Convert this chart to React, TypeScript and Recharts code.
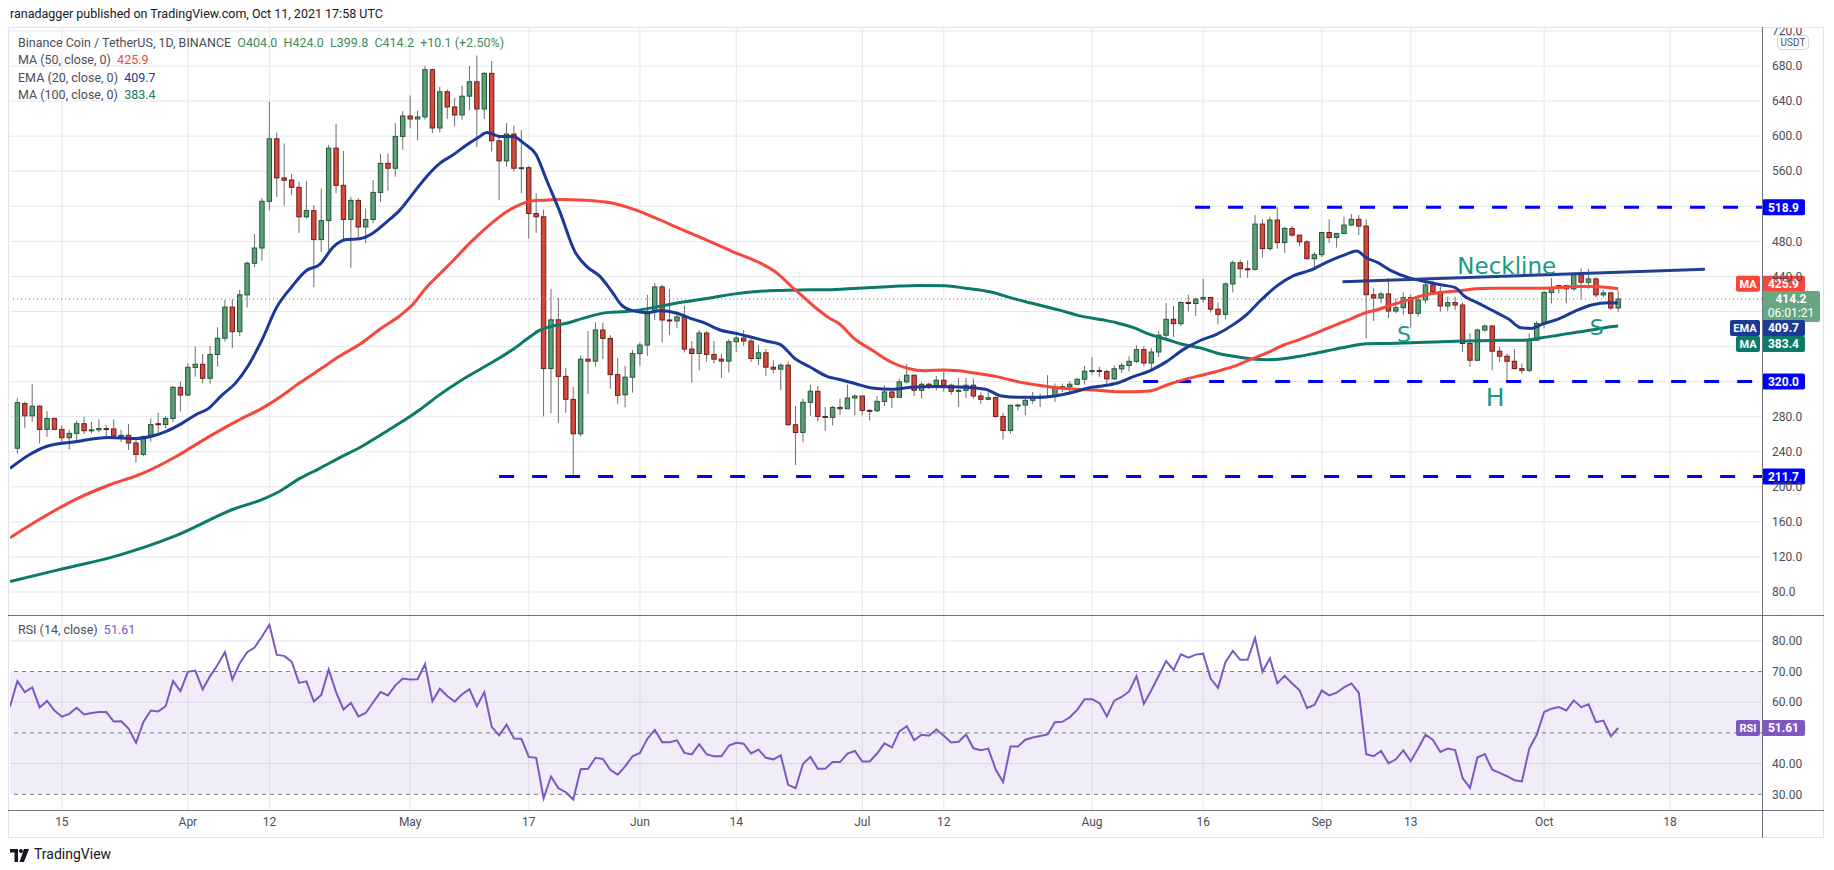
import React from "react"
import {
  ComposedChart,
  Bar,
  Line,
  XAxis,
  YAxis,
  CartesianGrid,
  ReferenceLine,
  ReferenceArea,
  ReferenceDot,
} from "recharts"

// x = day index, 0 = 8 Mar 2021
const X_DOMAIN: [number, number] = [0, 236.4]
const xTicks = [7, 24, 35, 54, 70, 85, 98, 115, 126, 146, 161, 177, 189, 207, 224]
const xTickLabels = ["15", "Apr", "12", "May", "17", "Jun", "14", "Jul", "12", "Aug", "16", "Sep", "13", "Oct", "18"]

// grid every 40; labels that sit under a price badge are left out, as on the chart
const priceGrid = [80, 120, 160, 200, 240, 280, 320, 360, 400, 440, 480, 520, 560, 600, 640, 680, 720]
const priceLabels = [80, 120, 160, 200, 240, 280, 440, 480, 560, 600, 640, 680, 720]
const rsiLabels = [30, 40, 60, 70, 80]
const rsiGridLines = [40, 60, 80]
const rsiDashed = [30, 50, 70]

// daily candles, first one is 9 Mar
const firstCandleDay = 1
const opens = [
  244, 295, 281, 292, 265.5, 278, 265.5, 256, 261, 272,
  264, 265, 266.5, 266, 258, 258.8, 250, 237, 257, 272,
  271, 278, 313.5, 304.7, 336.3, 339.8, 323.8, 351, 369.5, 405,
  377, 419, 455, 472.4, 525.7, 597, 552.4, 550, 541.6, 508,
  515, 482, 503.7, 586.3, 543.9, 505, 526.7, 496.4, 505, 535.8,
  569, 563.4, 599.7, 623, 619.6, 621.9, 675.8, 609.3, 650.6, 633.3,
  624.2, 645.6, 662, 631, 671.6, 594.7, 571.8, 602.4, 563.4, 564,
  511.7, 508, 335, 390.5, 326, 299.8, 260.5, 345.6, 343.4, 378.9,
  369.3, 328, 305, 325, 352, 361.7, 400, 428, 390.3, 389.2,
  393.8, 357.1, 352.1, 375.4, 351, 345.6, 343.4, 365.5, 369.7, 366.3,
  346.4, 352.9, 336.5, 334.2, 338.8, 270.8, 262, 296.4, 309, 280.3,
  279.2, 290.6, 289.1, 301.3, 303.6, 287.2, 286.8, 297.5, 308.2, 302.1,
  319.7, 327.3, 310.1, 317, 315, 321.6, 315.9, 309, 310, 315.9,
  303.6, 299.8, 301.7, 280.3, 264.3, 293, 293.3, 298.7, 301.3, 302.5,
  303.2, 313.9, 314.3, 317, 322.7, 331.9, 332.7, 331.6, 323.1, 334.6,
  338.5, 343.1, 356.5, 341.2, 353.8, 373, 391.1, 386.1, 410.3, 409.1,
  414.1, 416, 402.6, 396.8, 431.4, 455.6, 448.7, 448, 499.7, 471.7,
  504.3, 478.6, 494.7, 487.1, 479.4, 460.2, 464.8, 490.1, 484.4, 489,
  498.6, 505.1, 497.4, 419.1, 415.3, 420, 400.5, 404.4, 415.8, 397.9,
  413.2, 430.3, 422.7, 406.3, 410.1, 407.4, 363.5, 344.4, 378.8, 383.4,
  354.7, 349, 343.2, 334.8, 332.9, 367.3, 386.4, 421.6, 427.3, 429.6,
  425.8, 441.8, 433.4, 437.2, 418.9, 421.2, 404,
]
const highs = [
  301, 297, 317, 293, 286.5, 279, 270, 265, 275.4, 280,
  274, 277, 270.5, 277, 265, 271.6, 255, 258.6, 278, 284.5,
  280.7, 315, 320, 341, 360, 351.6, 360.7, 382, 413.3, 414,
  424.7, 457, 488.7, 529.5, 639, 604, 591.6, 557, 548, 548.8,
  521.3, 540.4, 590, 614, 583, 530.9, 529, 517.5, 550, 580,
  580, 615, 628.4, 646.3, 629, 680, 677, 656.3, 653.2, 643.7,
  657.8, 680, 692, 673, 685.7, 599.7, 615, 612, 607, 566,
  534.7, 516.3, 425.7, 416, 335.7, 314, 349.5, 377.7, 387.7, 387.3,
  373, 347.2, 338, 356, 364.7, 419, 432.4, 430.5, 425.9, 399.9,
  406.8, 366.3, 378.9, 377.7, 366.3, 352.1, 368.6, 377, 378.9, 368.6,
  361.7, 357, 344.5, 340.7, 342.6, 292.2, 300.6, 316.6, 315, 291,
  292.2, 300.6, 316.6, 305.2, 303.6, 288.3, 303.6, 315.9, 309, 323.5,
  340, 328.1, 319.7, 318.9, 326.5, 334.2, 317.8, 324.3, 324.3, 323.5,
  307.5, 308.2, 303.2, 284.5, 293.7, 294.8, 300.6, 308.2, 306.3, 327.3,
  317.8, 317.8, 320.4, 324.3, 338, 348, 336.9, 333.5, 338.5, 341.2,
  348.9, 361.5, 360.4, 358.5, 377.6, 409.5, 406.4, 411.4, 419.1, 416,
  437.2, 416.8, 410.3, 433.3, 458.3, 459, 458.3, 510.1, 505.1, 508.2,
  518.9, 496.7, 497.4, 487.8, 481.3, 467.9, 490.9, 505.1, 489.7, 508.2,
  511.2, 510, 505.1, 426.8, 422.7, 438, 415, 422, 419.6, 417,
  438, 434.9, 428.4, 417, 417, 410.5, 375, 380.7, 385.3, 384.5,
  359.7, 352, 357, 340.6, 375, 389.1, 423.5, 438, 430.3, 430.3,
  443.7, 449.4, 448.7, 438.7, 424.6, 422, 424,
]
const lows = [
  238, 267, 274, 249.5, 257, 265, 251, 242.6, 250, 260,
  261, 262, 258, 257, 251, 242, 227.4, 235, 251.4, 261.7,
  266.6, 274, 285.7, 303.6, 325.7, 318, 317, 337, 365.7, 358,
  372, 404.5, 450.6, 458, 515.4, 530.7, 520.7, 532.8, 489.6, 506,
  427.6, 467.8, 469.7, 534.7, 481, 449.4, 484.2, 478, 501, 525,
  537.7, 553.8, 584.4, 609, 595, 618.8, 603.5, 604.3, 619.6, 611.2,
  618.8, 629.5, 587.5, 619.6, 582.5, 527, 565, 559.5, 534.7, 483,
  489.6, 280.4, 284, 273, 284.5, 211.7, 257.4, 306, 336.9, 345.6,
  312, 294.8, 290.6, 307.5, 338, 349.5, 390.3, 364.7, 373, 380.8,
  353.3, 318.9, 333, 342.6, 340.7, 324.3, 330.4, 354, 361, 342.6,
  338.8, 326.5, 329.2, 310, 270, 224.9, 250.9, 280.7, 274.6, 264,
  270, 282, 289, 281.5, 281.5, 275.7, 285.3, 292.2, 289.9, 301.7,
  317.8, 303.6, 300.6, 311.3, 310.1, 308.2, 305.2, 291, 301.3, 300.6,
  294.8, 298.7, 278.8, 254, 260.5, 287.2, 281.5, 294.8, 291, 301.3,
  296.7, 308.2, 308.2, 315.9, 316.6, 328.1, 325.4, 316, 322, 329.7,
  331.6, 341.2, 337.3, 333.5, 348.1, 370, 370.7, 383.4, 399.9, 394.9,
  410.3, 398.8, 385.3, 391.1, 421.8, 438.3, 438.3, 446.8, 461.3, 469.8,
  471.7, 466.7, 485.1, 474.4, 459, 448.7, 462.1, 478.2, 472.9, 488.2,
  497.4, 487.1, 369.2, 389.2, 409.3, 392.1, 397.9, 396, 381.4, 394,
  409.3, 418.9, 399.8, 400.5, 401.7, 354, 336.8, 343.2, 376.9, 332.9,
  342.5, 319.6, 334, 329, 331, 366.2, 380.7, 409.3, 420.8, 409.3,
  423.5, 413.2, 425.8, 415.8, 415.8, 401.7, 399.8,
]
const closes = [
  296, 281, 292, 265.5, 278, 265.5, 256, 261, 272, 264,
  265, 266.5, 266, 258, 258.8, 250, 237, 257, 271, 271,
  278, 313.5, 304.7, 336.3, 339.8, 323.8, 351, 369.5, 405, 377,
  419, 455, 472.4, 525.7, 597, 552.4, 549.7, 541.6, 508, 515.2,
  482, 503.7, 586.3, 543.9, 505, 526.7, 496.4, 505, 535.8, 569,
  563.4, 599.7, 623, 619.6, 621.9, 675.8, 609.3, 650.6, 633.3, 624.2,
  645.6, 662, 631, 671.6, 594.7, 571.8, 602.4, 563.4, 564, 511.7,
  508, 335, 390.5, 326, 299.8, 260.5, 345.6, 343.4, 378.9, 369.3,
  328, 304.4, 325, 352, 361.7, 400, 428, 390.3, 389.2, 393.8,
  357.1, 352.1, 375.4, 351, 345.6, 343.4, 365.5, 369.7, 366.3, 346.4,
  352.9, 336.5, 334.2, 338.8, 270.8, 262, 296.4, 309, 280.3, 279.2,
  290.6, 289.1, 301.3, 303.6, 287.2, 286.8, 297.5, 308.2, 302.1, 319.7,
  327.3, 310.1, 317, 315, 321.6, 315.9, 309, 310, 315.9, 303.6,
  299.8, 301.7, 280.3, 264.3, 293, 293.3, 298.7, 301.3, 302.5, 303.2,
  313.9, 314.3, 317, 322.7, 331.9, 332.7, 331.6, 323.1, 334.6, 338.5,
  343.1, 356.5, 341.2, 353.8, 373, 391.1, 386.1, 410.3, 409.1, 414.1,
  416, 402.6, 396.8, 431.4, 455.6, 448.7, 448, 499.7, 471.7, 504.3,
  478.6, 494.7, 487.1, 479.4, 460.2, 464.8, 490.1, 484.4, 489, 498.6,
  505.1, 497.4, 419.1, 415.3, 420, 400.5, 404.4, 415.8, 397.9, 413.2,
  430.3, 422.7, 406.3, 410.1, 407.4, 363.5, 344.4, 378.8, 383.4, 354.7,
  349, 343.2, 334.8, 332.9, 367.3, 386.4, 421.6, 427.3, 429.6, 425.8,
  441.8, 433.4, 437.2, 418.9, 421.2, 404, 414.2,
]

// moving averages as [day, value]
const ema20: [number, number][] = [
  [0, 221], [2.5, 236], [4.8, 245.7], [8.8, 251.4], [13.3, 256.3], [16.9, 255], [19.2, 257.9], [21, 263],
  [23.2, 272.4], [25, 282], [26.8, 289.5], [28.6, 304.7], [30.4, 318], [32.2, 339], [34, 367.6], [36, 405],
  [38, 428], [40, 446.7], [41.8, 453.6], [43.6, 473.5], [45.4, 482], [47.2, 483], [49, 489.6], [50.8, 502],
  [52.6, 515.6], [54.4, 534.7], [56.2, 553.8], [58, 569], [59.8, 578.7], [61.6, 590], [63.4, 599.7],
  [64.3, 604.3], [66.1, 599.7], [67.9, 599.7], [69.3, 592], [71, 578.7], [72.4, 550], [74.2, 513.6],
  [76.2, 468.6], [77.8, 451.5], [79.6, 440], [81.2, 422.8], [82.5, 407.5], [84.1, 400.7], [85.9, 398.7],
  [87.7, 400.7], [90, 398], [91.8, 392.2], [93.5, 387.7], [95.8, 378.9], [98, 375], [99.8, 371.2],
  [102, 366.3], [103.9, 362.5], [105.9, 346.4], [107.9, 336.9], [110.3, 325.8], [111.8, 322.7],
  [114, 317.8], [116.3, 312.8], [119, 311.3], [121.7, 313.6], [124.8, 314.3], [128, 313.9], [131.6, 311.3],
  [133.8, 303.6], [136.1, 302.1], [138.8, 302.1], [141, 303.6], [143.3, 307.5], [145.5, 312.8],
  [147.4, 315], [149.3, 318.1], [151.6, 325.8], [153.8, 332.3], [156.1, 343.1], [158.3, 356.5],
  [160.6, 366.9], [162.8, 373.8], [165.1, 385.3], [166.9, 396.8], [168.7, 412.2], [171, 429.5],
  [173.2, 441], [175.4, 446.8], [177.7, 456.4], [179.9, 464], [181.7, 469], [183, 461.3], [184.5, 456],
  [186.4, 446.4], [188.7, 438.7], [190.9, 434.2], [193.2, 430.3], [195, 427.3], [196.3, 417],
  [197.7, 411.2], [199.9, 401.7], [202.2, 391.4], [203.9, 381.4], [205.3, 380.7], [206.7, 385.3],
  [208.9, 391.4], [211.2, 400.5], [213.4, 407.4], [215.7, 410.1], [217, 409.7],
]
const ma50: [number, number][] = [
  [0, 142], [4, 163], [8.8, 185.5], [13.3, 201.8], [17.8, 215], [22.3, 234], [26.8, 257], [31.3, 278],
  [34, 289.5], [36.4, 302.2], [39.1, 318.6], [41.8, 333.9], [44.5, 349.2], [47.2, 362.6], [49.9, 379.8],
  [52.6, 395.1], [54.4, 408.5], [56.2, 427.6], [58, 442.9], [59.8, 458.2], [61.6, 474.3], [63.4, 488.8],
  [65.2, 502.2], [67, 513.7], [68.8, 522], [70.6, 526.3], [72.4, 527], [74.2, 527.8], [77.6, 527],
  [81, 524], [84, 517], [87, 507], [90, 496], [93, 485], [96, 474], [97.4, 468.6], [100.8, 457],
  [103.5, 443.8], [105.2, 430.5], [107, 417], [108.8, 403.7], [110.6, 392.2], [111.8, 386.5],
  [114, 368.6], [116.3, 356], [119, 341.8], [121.2, 334.9], [123.5, 332.3], [126, 333.4], [128, 332.3],
  [130.6, 329.2], [133.3, 325.4], [136.1, 319.7], [138.8, 315.9], [141.5, 312.8], [144.2, 311.3],
  [147.1, 310], [149.3, 308.5], [151.6, 308.5], [153.8, 309.3], [156.1, 316.2], [158.3, 322],
  [160.6, 327], [162.8, 331.6], [165.1, 337.3], [167.3, 345], [169.6, 352.7], [171.8, 361.5], [174, 368],
  [176.3, 375.7], [178.5, 383.4], [180.8, 391.1], [183, 398.8], [184.5, 402], [186.4, 407.4],
  [188.7, 413.2], [190.9, 418.9], [193.2, 422], [195.4, 423.5], [197.7, 425.8], [199.9, 426.5],
  [204.4, 426.5], [206.7, 426.5], [208.9, 427.3], [211.2, 428.4], [213.4, 428.4], [215.7, 427.3],
  [217, 425.9],
]
const ma100: [number, number][] = [
  [0, 92], [6.5, 105.3], [14.4, 121.3], [22.3, 144], [30.2, 174.7], [34, 185.5], [36.4, 195],
  [39.1, 209.6], [41.8, 221.1], [44.5, 233.4], [47.2, 244.8], [49.9, 258.6], [52.6, 272.7], [55.3, 288],
  [58, 305.2], [60.7, 320.5], [63.4, 333.9], [66.1, 347.3], [67.9, 356.9], [69.7, 368.3], [71.5, 378.7],
  [73.3, 383.6], [75.1, 386.5], [77.3, 392.2], [80.5, 398.7], [83.2, 400], [85.9, 403], [88.6, 407.5],
  [91.8, 412], [94.9, 416], [97.6, 419.8], [100.8, 422.8], [104.3, 424], [107.9, 424.7], [110.3, 424.7],
  [114.5, 426.6], [119, 428.5], [122.6, 429.7], [126.2, 429.3], [128.9, 426.6], [132.5, 422],
  [135.2, 415.2], [137.9, 409.4], [141.5, 401.8], [144.2, 395.3], [147.4, 390.5], [149.3, 387.2],
  [151.6, 381.5], [153.8, 373.8], [156.1, 368], [158.3, 362.3], [160.6, 358.5], [162.8, 352.7],
  [165.1, 348.9], [167.3, 346.2], [169.6, 345], [171.8, 346.2], [174, 348.9], [176.3, 352.7],
  [178.5, 356.5], [180.8, 360.4], [183, 363.1], [186, 363.5], [190, 364.5], [195, 366], [200, 367],
  [204.4, 367.3], [206.7, 370], [208.9, 373], [211.2, 376.1], [213.4, 378.8], [215.7, 382.2], [217, 383.4],
]

// RSI(14), one value per day from 8 Mar
const rsi = [
  58.6, 66.9, 63.3, 64.8, 58.3, 60.4, 57.3, 55.3, 56.2, 58.2,
  56, 56.5, 56.8, 56.8, 53.7, 53.8, 51.4, 46.8, 53.6, 57.3,
  57, 58.7, 66.9, 63.6, 69.9, 70.3, 64.2, 68.5, 72.1, 76.3,
  67.4, 72.7, 76.3, 77.8, 81.4, 85.2, 75.4, 75.1, 73.2, 66.3,
  66.8, 60.2, 62.4, 70.7, 63.3, 57.6, 59.8, 55.4, 56.5, 60,
  63.3, 62.2, 65.5, 67.7, 67.4, 67.5, 72.4, 60.3, 64.4, 62,
  60.2, 62.6, 64.2, 58.7, 63.3, 52, 49.2, 52.7, 48.2, 48.1,
  42.2, 41.9, 28.7, 35.8, 32, 30.7, 28.3, 38.2, 38.3, 41.9,
  41.5, 38, 36.4, 39.1, 42.4, 43.5, 48.1, 51, 47, 47,
  47.6, 43.5, 43, 46.3, 43, 42.4, 42.4, 45.9, 46.8, 46.5,
  43.3, 44.6, 41.9, 41.4, 42.7, 33.1, 32, 39.9, 42.2, 38.3,
  38.3, 40.5, 40.5, 43.3, 44.1, 40.7, 40.7, 43.3, 46.6, 45.3,
  50.5, 52.2, 47.6, 49.4, 49.1, 51.1, 49.1, 46.9, 47.1, 49.5,
  45, 44.4, 44.9, 38.1, 34, 45.6, 45.6, 47.8, 48.5, 49,
  49.5, 53.5, 53.6, 55.1, 57.5, 61, 61, 59.7, 55.4, 60.5,
  61.7, 63.5, 68.5, 59.5, 63.9, 68.6, 73.4, 70.5, 75.6, 74.5,
  75.5, 75.8, 67.7, 64.7, 73, 76.7, 73.8, 73.8, 80.9, 69.9,
  74.3, 66.2, 68.6, 66.1, 63.9, 58.1, 59.1, 63.8, 62.2, 63.1,
  64.8, 66.1, 63, 43.1, 42.4, 44.1, 40.1, 41.4, 44.3, 40.8,
  44.9, 49.4, 47.7, 43.8, 44.9, 44.4, 35.3, 32.1, 42, 43.1,
  38, 37, 35.9, 34.6, 34.2, 44.9, 49.4, 56.8, 57.9, 58.4,
  57.3, 60.6, 58.4, 59.3, 53.5, 54, 48.9, 51.61,
]

// drawn levels
const supportLevels = [
  { value: 518.9, from: 159.9 },
  { value: 320.0, from: 152.9 },
  { value: 211.7, from: 66 },
]
const neckline = [
  { x: 179.8, y: 434 },
  { x: 228.7, y: 448.1 },
]
const patternLabels = [
  { text: "Neckline", x: 201.96, y: 452.2, size: 23 },
  { text: "S", x: 188.1, y: 374.3, size: 22 },
  { text: "H", x: 200.4, y: 302.8, size: 25 },
  { text: "S", x: 214.1, y: 382.3, size: 22 },
]

const W = 1834
const PLOT_LEFT = 10
const AXIS_W = 72
const BODY_W = 5.4
const PRICE_DOMAIN: [number, number] = [53.8, 724.5]
const RSI_DOMAIN: [number, number] = [24.9, 88.4]

const FONT = "Roboto, 'Liberation Sans', Arial, sans-serif"
const TEXT = "#4a4d57"
const GRID = "#e6e7eb"
const FRAME = "#e0e3eb"
const DARK_LINE = "#6f727c"
const UP_FILL = "#5f9f77"
const UP_EDGE = "#1e5636"
const DOWN_FILL = "#d5483b"
const DOWN_EDGE = "#6b1e17"
const WICK = "#6e6e6e"
const RED = "#f7463b"
const NAVY = "#1b3a98"
const TEAL = "#0b7a68"
const PURPLE = "#7e57c2"
const LEVEL_BLUE = "#0000ff"
const LABEL_TEAL = "#17998a"

const candleRows = opens.map((o, k) => ({
  x: firstCandleDay + k,
  o,
  h: highs[k],
  l: lows[k],
  c: closes[k],
}))
const toPts = (arr: [number, number][]) => arr.map(([x, v]) => ({ x, v }))
const rsiRows = rsi.map((v, k) => ({ x: k, v }))
const fmtX = (v: number) => xTickLabels[xTicks.indexOf(v)] ?? ""

function Candle(props: any) {
  const { x, y, width, height, payload } = props
  if (!payload || !isFinite(y) || !isFinite(height)) return null
  const { o, h, l, c } = payload
  const up = c >= o
  const yOf = (v: number) => y + ((h - v) / (h - l)) * height
  const top = yOf(Math.max(o, c))
  const bot = yOf(Math.min(o, c))
  const cx = x + (width || 0) / 2
  return (
    <g>
      <line x1={cx} x2={cx} y1={y} y2={y + height} stroke={WICK} strokeWidth={1} />
      <rect
        x={cx - BODY_W / 2 + 0.5}
        y={top}
        width={BODY_W - 1}
        height={Math.max(bot - top, 1)}
        fill={up ? UP_FILL : DOWN_FILL}
        stroke={up ? UP_EDGE : DOWN_EDGE}
        strokeWidth={1}
      />
    </g>
  )
}

function Badge(props: any) {
  const { cx, cy, lines, bg, tag, tagBg, tagW = 24, width = 43, dy = 0 } = props
  if (!isFinite(cx) || !isFinite(cy)) return null
  const y = cy + dy
  const h = lines.length > 1 ? 31 : 16
  return (
    <g fontFamily={FONT}>
      {tag && (
        <g>
          <rect x={cx - tagW - 2} y={y - 8} width={tagW} height={16} rx={2} fill={tagBg} />
          <text x={cx - tagW / 2 - 2} y={y} dy="0.36em" textAnchor="middle" fontSize={11} fontWeight={700} fill="#fff">
            {tag}
          </text>
        </g>
      )}
      <rect x={cx} y={y - 8} width={width} height={h} rx={2} fill={bg} />
      {lines.map((t: string, k: number) => (
        <text
          key={k}
          x={cx + width / 2}
          y={y + k * 14}
          dy="0.36em"
          textAnchor="middle"
          fontSize={12}
          fontWeight={k === 0 ? 700 : 400}
          fill="#fff"
        >
          {t}
        </text>
      ))}
    </g>
  )
}

const hLine = (top: number, left: number, width: number, color: string) => (
  <div style={{ position: "absolute", top, left, width, height: 1, background: color }} />
)
const vLine = (left: number, top: number, height: number, color: string) => (
  <div style={{ position: "absolute", top, left, width: 1, height, background: color }} />
)

export default function App() {
  return (
    <div style={{ position: "relative", width: W, height: 870, background: "#fff", fontFamily: FONT, overflow: "hidden" }}>
      <style>{"body{margin:0}"}</style>

      <div style={{ position: "absolute", left: 10, top: 6, fontSize: 12.5, color: "#131722" }}>
        ranadagger published on TradingView.com, Oct 11, 2021 17:58 UTC
      </div>

      {/* price pane */}
      <div style={{ position: "absolute", left: 0, top: 27 }}>
        <ComposedChart width={W} height={588} data={candleRows} margin={{ top: 0, right: 0, bottom: 0, left: PLOT_LEFT }}>
          <CartesianGrid stroke={GRID} horizontalValues={priceGrid} verticalValues={xTicks} />
          <XAxis dataKey="x" type="number" domain={X_DOMAIN} allowDataOverflow hide />
          <YAxis
            orientation="right"
            width={AXIS_W}
            domain={PRICE_DOMAIN}
            ticks={priceLabels}
            interval={0}
            allowDataOverflow
            axisLine={false}
            tickLine={false}
            tickSize={0}
            tickMargin={10}
            tickFormatter={(v: number) => v.toFixed(1)}
            tick={{ fontSize: 12, fill: TEXT, fontFamily: FONT }}
          />
          <ReferenceLine y={414.2} stroke="#4f9a6c" strokeDasharray="1 3" strokeWidth={1} />
          {supportLevels.map((s) => (
            <ReferenceLine
              key={s.value}
              segment={[{ x: s.from, y: s.value }, { x: X_DOMAIN[1], y: s.value }]}
              stroke={LEVEL_BLUE}
              strokeWidth={3}
              strokeDasharray="15 18"
            />
          ))}
          <Line data={toPts(ma100)} dataKey="v" type="monotone" stroke={TEAL} strokeWidth={3} dot={false} isAnimationActive={false} />
          <Line data={toPts(ma50)} dataKey="v" type="monotone" stroke={RED} strokeWidth={3} dot={false} isAnimationActive={false} />
          <Line data={toPts(ema20)} dataKey="v" type="monotone" stroke={NAVY} strokeWidth={3} dot={false} isAnimationActive={false} />
          <Bar dataKey={(d: any) => [d.l, d.h]} barSize={BODY_W} shape={<Candle />} isAnimationActive={false} />
          <ReferenceLine segment={neckline} stroke="#21408f" strokeWidth={3} />
          {patternLabels.map((p, k) => (
            <ReferenceDot
              key={k}
              x={p.x}
              y={p.y}
              r={1}
              ifOverflow="visible"
              shape={(sp: any) => (
                <text x={sp.cx} y={sp.cy} dy="0.36em" textAnchor="middle" fontSize={p.size} fill={LABEL_TEAL} fontFamily="'DejaVu Sans', sans-serif">
                  {p.text}
                </text>
              )}
            />
          ))}
          {supportLevels.map((s) => (
            <ReferenceDot
              key={"b" + s.value}
              x={X_DOMAIN[1]}
              y={s.value}
              r={1}
              ifOverflow="visible"
              shape={(sp: any) => <Badge cx={sp.cx} cy={sp.cy} lines={[s.value.toFixed(1)]} bg={LEVEL_BLUE} />}
            />
          ))}
          <ReferenceDot x={X_DOMAIN[1]} y={425.9} r={1} ifOverflow="visible"
            shape={(sp: any) => <Badge cx={sp.cx} cy={sp.cy} dy={-5} lines={["425.9"]} bg={RED} tag="MA" tagBg={RED} />} />
          <ReferenceDot x={X_DOMAIN[1]} y={414.2} r={1} ifOverflow="visible"
            shape={(sp: any) => <Badge cx={sp.cx} cy={sp.cy} width={58} lines={["414.2", "06:01:21"]} bg="#68a67f" />} />
          <ReferenceDot x={X_DOMAIN[1]} y={409.7} r={1} ifOverflow="visible"
            shape={(sp: any) => <Badge cx={sp.cx} cy={sp.cy} dy={25} lines={["409.7"]} bg={NAVY} tag="EMA" tagW={30} tagBg={NAVY} />} />
          <ReferenceDot x={X_DOMAIN[1]} y={383.4} r={1} ifOverflow="visible"
            shape={(sp: any) => <Badge cx={sp.cx} cy={sp.cy} dy={18} lines={["383.4"]} bg={TEAL} tag="MA" tagBg={TEAL} />} />
        </ComposedChart>
      </div>

      {/* RSI pane */}
      <div style={{ position: "absolute", left: 0, top: 615 }}>
        <ComposedChart width={W} height={223} data={rsiRows} margin={{ top: 0, right: 0, bottom: 0, left: PLOT_LEFT }}>
          <ReferenceArea y1={30} y2={70} x1={X_DOMAIN[0]} x2={X_DOMAIN[1]} fill={PURPLE} fillOpacity={0.11} stroke="none" />
          <CartesianGrid stroke={GRID} horizontalValues={rsiGridLines} verticalValues={xTicks} />
          <XAxis
            dataKey="x"
            type="number"
            domain={X_DOMAIN}
            ticks={xTicks}
            interval={0}
            allowDataOverflow
            height={28}
            axisLine={false}
            tickLine={false}
            tickSize={0}
            tickMargin={7}
            tickFormatter={fmtX}
            tick={{ fontSize: 12, fill: TEXT, fontFamily: FONT }}
          />
          <YAxis
            orientation="right"
            width={AXIS_W}
            domain={RSI_DOMAIN}
            ticks={rsiLabels}
            interval={0}
            allowDataOverflow
            axisLine={false}
            tickLine={false}
            tickSize={0}
            tickMargin={10}
            tickFormatter={(v: number) => v.toFixed(2)}
            tick={{ fontSize: 12, fill: TEXT, fontFamily: FONT }}
          />
          {rsiDashed.map((v) => (
            <ReferenceLine key={v} y={v} stroke="#7d7f88" strokeDasharray="4 4" strokeWidth={1} />
          ))}
          <Line dataKey="v" type="linear" stroke={PURPLE} strokeWidth={2} dot={false} isAnimationActive={false} />
          <ReferenceDot x={X_DOMAIN[1]} y={51.61} r={1} ifOverflow="visible"
            shape={(sp: any) => <Badge cx={sp.cx} cy={sp.cy} lines={["51.61"]} bg={PURPLE} tag="RSI" tagBg={PURPLE} />} />
        </ComposedChart>
      </div>

      {/* legends */}
      <div style={{ position: "absolute", left: 18, top: 34, fontSize: 12.5, lineHeight: "17.3px", color: TEXT, whiteSpace: "pre" }}>
        <div>
          Binance Coin / TetherUS, 1D, BINANCE{"  "}
          <span style={{ color: "#3d8a5c" }}>O404.0{"  "}H424.0{"  "}L399.8{"  "}C414.2{"  "}+10.1 (+2.50%)</span>
        </div>
        <div>MA (50, close, 0)  <span style={{ color: RED }}>425.9</span></div>
        <div>EMA (20, close, 0)  <span style={{ color: NAVY }}>409.7</span></div>
        <div>MA (100, close, 0)  <span style={{ color: TEAL }}>383.4</span></div>
      </div>
      <div style={{ position: "absolute", left: 18, top: 622, fontSize: 12.5, color: TEXT, whiteSpace: "pre" }}>
        RSI (14, close)  <span style={{ color: PURPLE }}>51.61</span>
      </div>

      <div
        style={{
          position: "absolute", left: 1777, top: 35, width: 30, height: 13, border: "1px solid #d1d4dc",
          borderRadius: 4, background: "#fff", fontSize: 10, color: TEXT, textAlign: "center", lineHeight: "13px",
        }}
      >
        USDT
      </div>

      {/* frame */}
      {hLine(27, 8, 1816, FRAME)}
      {hLine(837, 8, 1816, FRAME)}
      {vLine(8, 27, 811, FRAME)}
      {vLine(1823, 27, 811, FRAME)}
      {vLine(1762, 27, 811, DARK_LINE)}
      {hLine(615, 8, 1816, DARK_LINE)}
      {hLine(810, 8, 1816, DARK_LINE)}

      {/* footer logo */}
      <svg style={{ position: "absolute", left: 10, top: 849 }} width={22} height={13}>
        <path d="M0 0 H8 V13 H4.5 V3.5 H0 Z" fill="#131722" />
        <circle cx={11} cy={2} r={2} fill="#131722" />
        <path d="M14 0 H19 L14 13 H9.5 Z" fill="#131722" />
      </svg>
      <div style={{ position: "absolute", left: 34, top: 846, fontSize: 14, color: "#131722" }}>TradingView</div>
    </div>
  )
}
